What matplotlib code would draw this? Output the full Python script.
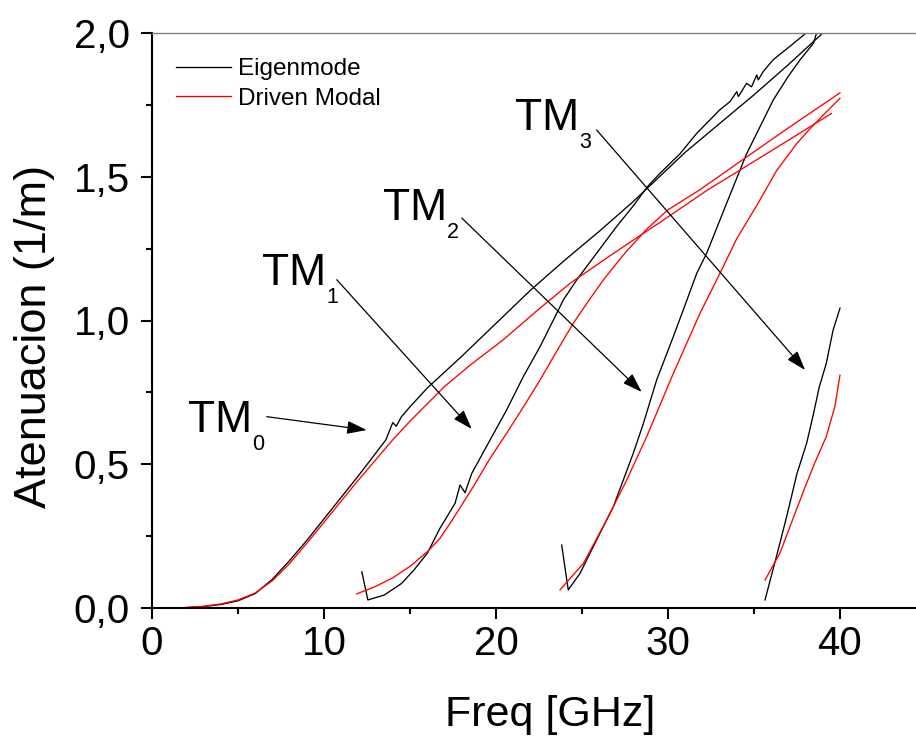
import matplotlib
matplotlib.use("Agg")
import matplotlib.pyplot as plt
from matplotlib.ticker import MultipleLocator, FuncFormatter

plt.rcParams['font.family'] = ['Liberation Sans', 'DejaVu Sans']

# ---- Eigenmode (black) ----
tm0_eig_f = [1.7, 3, 4, 5, 6, 7, 8, 9, 10, 11, 12, 12.9, 13.6, 14.0, 14.2, 14.5, 15, 16, 17, 18,
             20, 22, 24, 26, 28, 29.5, 31, 33, 35, 37, 39, 40]
tm0_eig_a = [0.0, 0.005, 0.012, 0.025, 0.05, 0.10, 0.165, 0.235, 0.31, 0.385, 0.46, 0.53, 0.585,
             0.645, 0.632, 0.665, 0.70, 0.765, 0.82, 0.875, 0.99, 1.105, 1.21, 1.31, 1.415, 1.50,
             1.585, 1.685, 1.785, 1.89, 2.0, 2.05]

tm1_eig_f = [12.2, 12.55, 13.5, 14.5, 15.2, 16.0, 16.74, 17.62, 17.91, 18.2, 18.59, 19.65, 20.62,
             21.59, 22.56, 23.53, 23.91, 24.69, 25.8, 27.0, 28.0, 28.8, 29.5, 30.7, 31.67, 33.0,
             33.6, 34.0, 34.09, 34.57, 34.86, 35.16, 35.25, 35.54, 36.1, 37.3, 37.97, 38.5, 40]
tm1_eig_a = [0.126, 0.028, 0.045, 0.085, 0.13, 0.19, 0.277, 0.364, 0.428, 0.401, 0.468, 0.584,
             0.689, 0.805, 0.909, 1.025, 1.071, 1.141, 1.23, 1.326, 1.40, 1.465, 1.51, 1.58, 1.651,
             1.732, 1.761, 1.796, 1.779, 1.825, 1.813, 1.854, 1.837, 1.866, 1.906, 1.964, 1.997,
             2.03, 2.1]

tm2_eig_f = [23.82, 24.2, 24.88, 25.85, 26.82, 27.98, 28.57, 29.34, 30.31, 31.0, 31.67, 32.25,
             33.41, 34.57, 35.4, 36.12, 37.0, 37.67, 38.45, 38.64, 40]
tm2_eig_a = [0.219, 0.063, 0.12, 0.237, 0.352, 0.538, 0.642, 0.793, 0.944, 1.055, 1.164, 1.234,
             1.408, 1.58, 1.68, 1.767, 1.85, 1.906, 1.964, 2.0, 2.12]

tm3_eig_f = [35.64, 36.0, 36.3, 36.9, 37.5, 38.06, 38.4, 38.8, 39.2, 39.6, 40.0]
tm3_eig_a = [0.028, 0.11, 0.178, 0.318, 0.468, 0.573, 0.66, 0.77, 0.85, 0.967, 1.043]

# ---- Driven Modal (red) ----
tm0_drv_f = [1.5, 3, 4, 5, 6, 7, 8, 9, 10, 11, 12, 13, 14, 15, 16, 17, 18.5, 20.4, 22.3, 24.3,
             26.5, 28.56, 29.5, 32.3, 36, 39.5]
tm0_drv_a = [0.0, 0.006, 0.014, 0.028, 0.052, 0.095, 0.155, 0.225, 0.298, 0.372, 0.445, 0.515,
             0.585, 0.65, 0.71, 0.77, 0.845, 0.932, 1.03, 1.129, 1.22, 1.303, 1.34, 1.454, 1.59, 1.72]

tm1_drv_f = [11.9, 13, 14, 15, 16, 16.74, 17.5, 18.68, 19.6, 20.62, 21.6, 22.56, 23.5, 24.49,
             25.4, 26.24, 27.5, 28.8, 30.0, 31.86, 34.0, 37.0, 40.0]
tm1_drv_a = [0.049, 0.075, 0.105, 0.145, 0.195, 0.242, 0.31, 0.422, 0.515, 0.608, 0.70, 0.793,
             0.89, 0.99, 1.07, 1.141, 1.235, 1.32, 1.385, 1.455, 1.545, 1.67, 1.792]

tm2_drv_f = [23.72, 25.08, 26.43, 27.6, 28.76, 30.31, 31.86, 33.02, 34.0, 35.16, 36.3, 37.48,
             38.3, 39.0, 40.0]
tm2_drv_a = [0.063, 0.155, 0.306, 0.445, 0.596, 0.816, 1.025, 1.164, 1.285, 1.40, 1.52, 1.615,
             1.67, 1.713, 1.773]

tm3_drv_f = [35.64, 36.5, 37.2, 37.9, 38.5, 39.2, 39.7, 40.0]
tm3_drv_a = [0.097, 0.19, 0.30, 0.41, 0.50, 0.596, 0.70, 0.81]

series_labels = ["Eigenmode", "Driven Modal"]
mode_labels = ["TM", "TM", "TM", "TM"]
mode_subs = ["0", "1", "2", "3"]

# label anchor (x, y) and arrow tail -> head, in data units
label_pos = [(2.09, 0.613), (6.40, 1.1235), (13.43, 1.3496), (21.10, 1.6626)]
arrow_tail = [(6.67, 0.6655), (10.74, 1.1419), (18.01, 1.3565), (25.85, 1.6626)]
arrow_head = [(12.48, 0.6191), (18.59, 0.6226), (28.47, 0.7513), (37.97, 0.8278)]

W, H = 916, 736
fig = plt.figure(figsize=(W / 100, H / 100), dpi=100)
ax = fig.add_axes([152 / W, (H - 608) / H, 774 / W, 575 / H])

lw = 0.95
eig = [(tm0_eig_f, tm0_eig_a), (tm1_eig_f, tm1_eig_a), (tm2_eig_f, tm2_eig_a), (tm3_eig_f, tm3_eig_a)]
drv = [(tm0_drv_f, tm0_drv_a), (tm1_drv_f, tm1_drv_a), (tm2_drv_f, tm2_drv_a), (tm3_drv_f, tm3_drv_a)]
for i, (f, a) in enumerate(eig):
    ax.plot(f, a, color='black', lw=lw, label=series_labels[0] if i == 0 else None)
for i, (f, a) in enumerate(drv):
    ax.plot(f, a, color='#ff0000', lw=lw, label=series_labels[1] if i == 0 else None)

ax.set_xlim(0, 45)
ax.set_ylim(0, 2.0)

ax.xaxis.set_major_locator(MultipleLocator(10))
ax.xaxis.set_minor_locator(MultipleLocator(5))
ax.yaxis.set_major_locator(MultipleLocator(0.5))
ax.yaxis.set_minor_locator(MultipleLocator(0.25))
ax.yaxis.set_major_formatter(FuncFormatter(lambda v, p: f"{v:.1f}".replace('.', ',')))
ax.xaxis.set_major_formatter(FuncFormatter(lambda v, p: f"{v:.0f}"))

ax.tick_params(which='major', direction='out', length=8, width=1.5, labelsize=29)
ax.tick_params(which='minor', direction='out', length=4.5, width=1.5)
ax.tick_params(axis='x', which='major', pad=4)
ax.tick_params(axis='y', which='major', pad=8)
ax.tick_params(top=False, right=False, which='both')

for s in ('left', 'bottom'):
    ax.spines[s].set_linewidth(1.5)
ax.spines['right'].set_visible(False)
ax.spines['top'].set_color('#808080')
ax.spines['top'].set_linewidth(1.0)

fig.text(35 / W, (H - 336) / H, "Atenuacion (1/m)", rotation=90, ha='center', va='center', fontsize=32.5)
fig.text(550 / W, (H - 726) / H, "Freq [GHz]", ha='center', va='baseline', fontsize=31)

leg = ax.legend(loc='upper left', bbox_to_anchor=((176 - 152) / 774, (608 - 58) / 575),
                frameon=False, fontsize=17.5, handlelength=2.26, handletextpad=0.28,
                labelspacing=0.31, borderpad=0, borderaxespad=0)

for (lx, ly), name, sub, tail, head in zip(label_pos, mode_labels, mode_subs, arrow_tail, arrow_head):
    ax.text(lx, ly, name, fontsize=32, ha='left', va='baseline')
    ax.annotate(sub, xy=(lx, ly), xytext=(46, -13), textcoords='offset points',
                fontsize=15.5, ha='left', va='baseline')
    ax.annotate('', xy=head, xytext=tail,
                arrowprops=dict(arrowstyle='-|>,head_length=0.6,head_width=0.2',
                                mutation_scale=20, color='black', lw=0.9,
                                shrinkA=0, shrinkB=0))

fig.savefig("out.png", dpi=100)
